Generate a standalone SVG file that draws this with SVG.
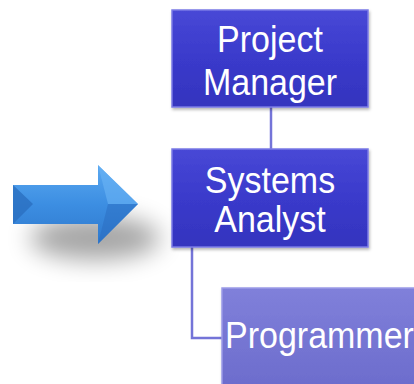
<svg xmlns="http://www.w3.org/2000/svg" width="414" height="384" viewBox="0 0 414 384">
<style>
.lbl{font-family:"Liberation Sans",Arial,sans-serif;font-size:34px;fill:#ffffff;text-anchor:middle}
.conn{fill:none;stroke:#7474d8;stroke-width:2.5}
</style>
<defs>
<linearGradient id="gDark" x1="0" y1="0" x2="0" y2="1">
<stop offset="0" stop-color="#4848d6"/>
<stop offset="0.5" stop-color="#3a3acb"/>
<stop offset="1" stop-color="#3434be"/>
</linearGradient>
<linearGradient id="gLight" x1="0" y1="0" x2="0" y2="1">
<stop offset="0" stop-color="#8080da"/>
<stop offset="1" stop-color="#6a6acb"/>
</linearGradient>
<linearGradient id="gArrow" x1="0" y1="0" x2="0" y2="1">
<stop offset="0" stop-color="#5aa8f0"/>
<stop offset="0.5" stop-color="#3c8ee2"/>
<stop offset="1" stop-color="#2f78cc"/>
</linearGradient>
<filter id="shadow" x="-50%" y="-50%" width="200%" height="200%">
<feGaussianBlur stdDeviation="12"/>
</filter>
<filter id="bshadow" x="-10%" y="-10%" width="120%" height="130%">
<feDropShadow dx="1" dy="2" stdDeviation="1.5" flood-color="#000" flood-opacity="0.3"/>
</filter>
</defs>

<g id="connectors">
<line class="conn" x1="271" y1="107" x2="271" y2="149"/>
<polyline class="conn" points="192,247 192,338 224,338"/>
</g>

<g id="arrow">
<ellipse cx="95" cy="238" rx="65" ry="22" fill="#000" opacity="0.35" filter="url(#shadow)"/>
<polygon points="13,185 98,185 98,165 138,204 98,244 98,224 13,224" fill="url(#gArrow)"/>
<polygon points="13,185 33,204 13,224" fill="#2a6fc0" opacity="0.8"/>
<polygon points="98,165 138,204 108,204" fill="#6ab4f5" opacity="0.6"/>
<polygon points="98,244 138,204 108,204" fill="#2a6cc0" opacity="0.5"/>
</g>

<g id="project-manager">
<rect x="172" y="10" width="196" height="97" fill="url(#gDark)" stroke="#7a7ae6" stroke-width="1.5" filter="url(#bshadow)"/>
<text class="lbl" transform="translate(270,52) scale(1,1.1)">Project</text>
<text class="lbl" transform="translate(270,95) scale(1,1.1)">Manager</text>
</g>

<g id="systems-analyst">
<rect x="172" y="149" width="196" height="98" fill="url(#gDark)" stroke="#7a7ae6" stroke-width="1.5" filter="url(#bshadow)"/>
<text class="lbl" transform="translate(270,193) scale(1,1.1)">Systems</text>
<text class="lbl" transform="translate(270,232) scale(1,1.1)">Analyst</text>
</g>

<g id="programmer">
<rect x="222" y="288" width="200" height="110" fill="url(#gLight)" stroke="#9a9ae8" stroke-width="1.5" filter="url(#bshadow)"/>
<text class="lbl" style="text-anchor:start" transform="translate(225,348) scale(1,1.1)">Programmer</text>
</g>
</svg>
